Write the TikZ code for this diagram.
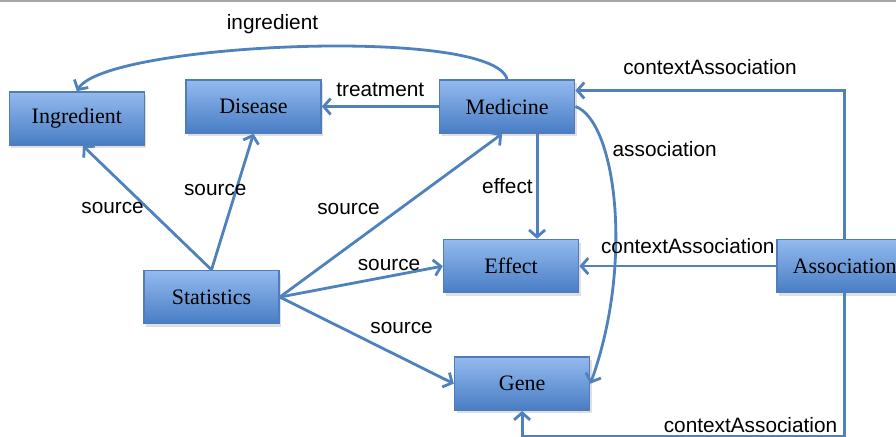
\documentclass[tikz,border=0pt]{standalone}
\usepackage{fontspec}
\setsansfont{Liberation Sans}
\newfontfamily\boxfont{Liberation Serif}
\usetikzlibrary{arrows.meta,shadows,positioning}
\definecolor{linkblue}{RGB}{79,129,189}
\definecolor{boxtop}{RGB}{148,186,238}
\definecolor{boxbot}{RGB}{72,125,196}
\definecolor{boxline}{RGB}{80,125,185}

\begin{document}
\begin{tikzpicture}[
            box/.style={draw=boxline, line width=0.8pt, rectangle, top color=boxtop, bottom color=boxbot,
                        minimum width=67.5pt, minimum height=26.5pt, inner sep=0pt,
                        font=\boxfont\fontsize{11}{13}\selectfont,
                        drop shadow={opacity=0.25, shadow xshift=1pt, shadow yshift=-1.5pt}},
            every node/.style={align=center, font=\sffamily\fontsize{10.4}{12}\selectfont},
            to/.style={-{Straight Barb[length=3.5pt,width=8pt]}, draw=linkblue, line width=1.4pt},
            node distance = 20pt
  ]

  \useasboundingbox (0,0) rectangle (448pt,-218.5pt);
  \draw[gray!70, line width=0.8pt] (0,-0.5pt) -- (448pt,-0.5pt);

  \node[box] (disease) at (126.75pt,-53.25pt) {Disease};
  \node[box] (medicine) [right=58.5pt of disease] {Medicine};
  \node[box] (ingredient) [left=20pt of disease, yshift=-6pt] {Ingredient};
  \node[box] (effect) [below=52.5pt of medicine, xshift=2pt] {Effect};
  \node[box] (association) [right=98.5pt of effect] {Association};
  \node[box] (gene) [below=31.5pt of effect, xshift=5.5pt] {Gene};
  \node[box] (statistics) [left=81.5pt of effect, yshift=-15.5pt] {Statistics};

  \draw[to] (medicine.north) to[out=105, in=60, looseness=0.33] node[pos=0.54, above=3pt] {ingredient} (ingredient.north);
  \draw[to] (medicine.west) -- node[above=1pt] {treatment} (disease.east);
  \draw[to] ([xshift=15pt]medicine.south) -- node[midway, left, inner sep=1.5pt] {effect} ([xshift=15pt]medicine.south |- effect.north);
  \draw[to] (medicine.east) .. controls +(20pt,-7pt) and +(22pt,61pt) .. node[pos=0.3, right] {association} (gene.east);

  \draw[to] (association.north) |- node[pos=0.75, above=4pt] {contextAssociation} ([yshift=8pt]medicine.east);
  \draw[to] (association.west) -- node[pos=0.45, above=2pt] {contextAssociation} (effect.east);
  \draw[to] (association.south) -- ++(0,-71.3pt) -| node[pos=0.146, above, inner sep=1pt] {contextAssociation} (gene.south);

  \draw[to] (statistics.north) -- node[midway, left, inner sep=1pt] {source} ([xshift=3pt]ingredient.south);
  \draw[to] (statistics.north) -- node[pos=0.59, xshift=-10.5pt] {source} (disease.south);
  \draw[to] (statistics.east) -- node[pos=0.54, left=6pt] {source} ([xshift=-2.5pt]medicine.south);
  \draw[to] (statistics.east) -- node[pos=0.67, above, inner sep=2pt] {source} (effect.west);
  \draw[to] (statistics.east) -- node[pos=0.7, above=8pt] {source} (gene.west);

\end{tikzpicture}
\end{document}
